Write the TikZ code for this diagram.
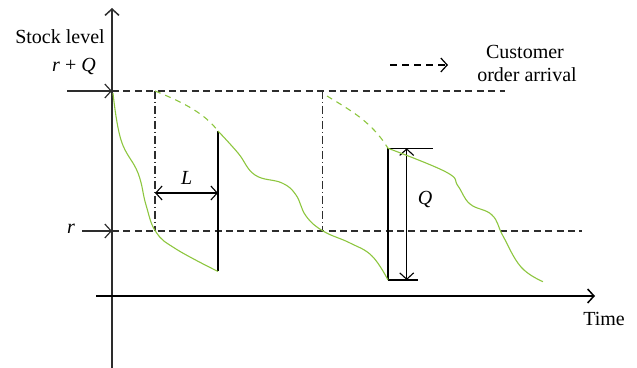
\documentclass[tikz,border=0pt]{standalone}
\usepackage{fontspec}
\setmainfont{Liberation Serif}
\usetikzlibrary{arrows.meta}
\definecolor{curvegreen}{RGB}{141,198,63}
\definecolor{axisgray}{RGB}{45,45,45}
\begin{document}
\begin{tikzpicture}[x=0.5pt,y=-0.5pt,
  barb/.style={-{Straight Barb[length=3.2pt,width=7pt]}},
  axisline/.style={draw=axisgray,line width=0.75pt,barb},
  levelline/.style={draw=axisgray,line width=0.6pt,dash pattern=on 3.5pt off 2.2pt},
  dashdot/.style={draw=axisgray,line width=0.6pt,dash pattern=on 4pt off 1.5pt on 0.5pt off 1.5pt},
  stockcurve/.style={draw=curvegreen,line width=0.55pt},
  forecast/.style={draw=curvegreen,line width=0.55pt,dash pattern=on 3pt off 2.5pt},
  thinline/.style={draw=black,line width=0.55pt},
  lbl/.style={font=\fontsize{10}{12}\selectfont,inner sep=0pt}]
\useasboundingbox (0,0) rectangle (637,368);
% key coordinates
\coordinate (ybot) at (112,368);
\coordinate (ytop) at (112,8);
\coordinate (xl) at (96,296);
\coordinate (xr) at (595,296);
\coordinate (rqin) at (67,91);
\coordinate (rqax) at (112,91);
\coordinate (rqend) at (505,91);
\coordinate (rin) at (82,231);
\coordinate (rax) at (112,231);
\coordinate (rend) at (582,231);
\coordinate (o1top) at (155,91);
\coordinate (o1bot) at (155,231);
\coordinate (o2top) at (322.7,91);
\coordinate (o2bot) at (322.7,231);
\coordinate (d1top) at (218,131);
\coordinate (d1bot) at (218,271.5);
\coordinate (d2top) at (388,148.3);
\coordinate (d2bot) at (388,280);
\coordinate (q2top) at (433,148.3);
\coordinate (q2bot) at (418,280);
\coordinate (qat) at (406.7,148.3);
\coordinate (qab) at (406.7,280);
\coordinate (la) at (155,193);
\coordinate (lb) at (218,193);
\coordinate (lega) at (390,65);
\coordinate (legb) at (448,65);
% axes
\draw[axisline] (ybot) -- (ytop);
\draw[axisline,draw=black] (xl) -- (xr);
% level lines
\draw[levelline] (rqax) -- (rqend);
\draw[levelline] (rax) -- (rend);
\draw[axisline,line width=0.6pt] (rqin) -- (rqax);
\draw[axisline,line width=0.6pt] (rin) -- (rax);
% order instants
\draw[dashdot] (o1top) -- (o1bot);
\draw[dashdot] (o2top) -- (o2bot);
% deliveries
\draw[thinline] (d1top) -- (d1bot);
\draw[thinline] (d2bot) -- (d2top) -- (q2top);
\draw[thinline,line width=0.7pt] (d2bot) -- (q2bot);
\draw[thinline,{Straight Barb[length=3.2pt,width=7pt]}-{Straight Barb[length=3.2pt,width=7pt]}] (qat) -- (qab);
\draw[thinline,{Straight Barb[length=3.2pt,width=7pt]}-{Straight Barb[length=3.2pt,width=7pt]}] (la) -- (lb);
% stock curves
\draw[stockcurve] plot[smooth,tension=0.7] coordinates {(113,93) (121,140) (138,173) (146,205) (156,232) (176,249) (218,271.5)};
\draw[stockcurve] plot[smooth,tension=0.7] coordinates {(218,131) (238,153) (255,175) (282,183) (296,195) (306,216) (323,231) (350,243) (372,256) (388,280)};
\draw[stockcurve] plot[smooth,tension=0.7] coordinates {(388,148.3) (446,172) (458,186) (470,204) (492,215) (503,236) (521,267) (543,281.7)};
\draw[forecast] (o1top) .. controls (185,103) and (205,114) .. (d1top);
\draw[forecast] (327,96) .. controls (350,110) and (372,122) .. (d2top);
% legend
\draw[levelline,dash pattern=on 3.5pt off 2.5pt,draw=black,barb] (lega) -- (legb);
% labels
\node[lbl] (stock) at (60,37) {Stock level};
\node[lbl] (rqlbl) at (74,67) {\textit{r} + \textit{Q}};
\node[lbl] (rlbl) at (71,229) {\textit{r}};
\node[lbl] (llbl) at (186.7,178) {\textit{L}};
\node[lbl] (qlbl) at (425,200) {\textit{Q}};
\node[lbl] (cust) at (525,52) {Customer};
\node[lbl] (ord) at (527,75) {order arrival};
\node[lbl] (time) at (604,319) {Time};
\end{tikzpicture}
\end{document}
